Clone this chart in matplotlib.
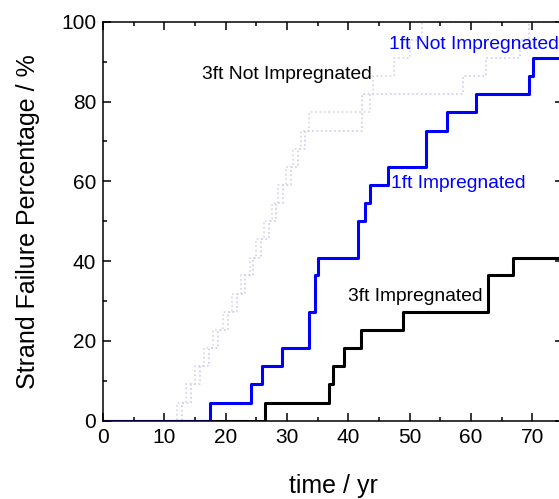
import matplotlib
matplotlib.use("Agg")
import matplotlib.pyplot as plt
from matplotlib.ticker import MultipleLocator

plt.rcParams['font.family'] = ['Liberation Sans', 'DejaVu Sans']

# --- data (step curves, % of strands failed) ---
t_1ft_imp = [0, 17.4, 24.2, 25.9, 29.1, 33.6, 34.6, 35.1, 41.6, 42.7, 43.6, 46.5, 52.6, 56.0, 60.8, 69.5, 70.1, 75]
p_1ft_imp = [0, 4.5, 9.1, 13.6, 18.2, 27.3, 36.4, 40.9, 50.0, 54.5, 59.1, 63.6, 72.7, 77.3, 81.8, 86.4, 90.9, 90.9]

t_3ft_imp = [0, 26.4, 36.9, 37.5, 39.3, 42.1, 48.9, 62.8, 66.8, 75]
p_3ft_imp = [0, 4.5, 9.1, 13.6, 18.2, 22.7, 27.3, 36.4, 40.9, 40.9]

t_3ft_not = [0, 12.0, 13.5, 15.0, 16.5, 18.0, 19.5, 21.0, 22.5, 24.0, 25.0, 26.3, 27.5, 28.5,
             29.8, 31.0, 32.3, 33.5, 43.5, 44.0, 47.5, 50.0, 52.0, 75]
p_3ft_not = [0, 4.5, 9.1, 13.6, 18.2, 22.7, 27.3, 31.8, 36.4, 40.9, 45.5, 50.0, 54.5, 59.1,
             63.6, 68.2, 72.7, 77.3, 81.8, 86.4, 90.9, 95.5, 100, 100]

t_1ft_not = [0, 12.8, 14.3, 15.8, 17.3, 18.8, 20.3, 21.8, 23.2, 24.5, 25.8, 27.0, 28.2, 29.4,
             30.6, 31.8, 33.0, 42.3, 58.7, 62.5, 68.0, 69.5, 75]
p_1ft_not = [0, 4.5, 9.1, 13.6, 18.2, 22.7, 27.3, 31.8, 36.4, 40.9, 45.5, 50.0, 54.5, 59.1,
             63.6, 68.2, 72.7, 81.8, 86.4, 90.9, 95.5, 100, 100]

labels = ["3ft Not Impregnated", "1ft Not Impregnated", "1ft Impregnated", "3ft Impregnated"]
label_x = [16.1, 46.7, 47.0, 40.0]
label_y = [86.7, 94.2, 59.5, 31.1]
label_c = ['black', '#0000ff', '#0000ff', 'black']

fig = plt.figure(figsize=(5.59, 4.99), dpi=100)
ax = fig.add_axes([0.1843, 0.1569, 0.8230, 0.7996])

ax.step(t_3ft_not, p_3ft_not, where='post', color='#d6d6e0', lw=1.2, ls=':')
ax.step(t_1ft_not, p_1ft_not, where='post', color='#cacaf4', lw=1.2, ls=':')
ax.step(t_3ft_imp, p_3ft_imp, where='post', color='black', lw=2.2)
ax.step(t_1ft_imp, p_1ft_imp, where='post', color='#0000ff', lw=2.2)

for s, x, y, c in zip(labels, label_x, label_y, label_c):
    ax.text(x, y, s, color=c, fontsize=13.9, ha='left', va='center')

ax.set_xlim(0, 75)
ax.set_ylim(0, 100)
ax.xaxis.set_major_locator(MultipleLocator(10))
ax.xaxis.set_minor_locator(MultipleLocator(5))
ax.yaxis.set_major_locator(MultipleLocator(20))
ax.yaxis.set_minor_locator(MultipleLocator(10))
ax.tick_params(which='both', direction='in', top=True, right=True, width=1.1, labelsize=15)
ax.tick_params(which='major', length=5.8, pad=5)
ax.tick_params(which='minor', length=3.2)
for sp in ax.spines.values():
    sp.set_linewidth(1.1)

ax.set_xlabel("time / yr", fontsize=18, labelpad=20)
ax.set_ylabel("Strand Failure Percentage / %", fontsize=18, labelpad=15)

fig.savefig("out.png", dpi=100)
